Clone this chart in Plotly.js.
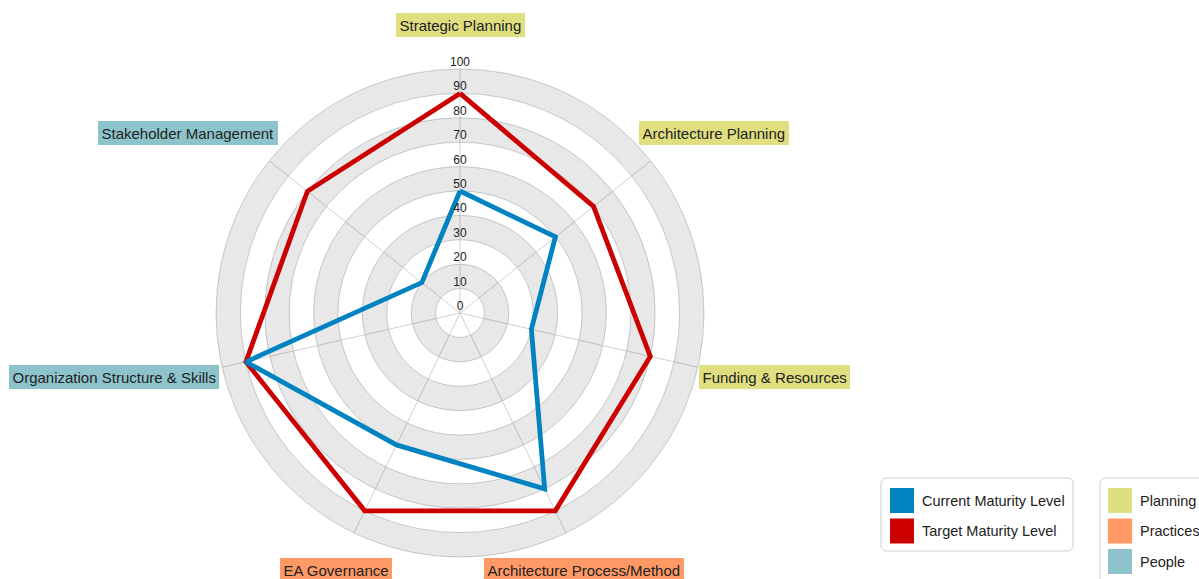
<!DOCTYPE html>
<html>
<head>
<meta charset="utf-8">
<script src="https://cdn.plot.ly/plotly-3.0.1.min.js"></script>
<style>html,body{margin:0;padding:0;background:#fff;}#chart{width:1199px;height:579px;}</style>
</head>
<body>
<div id="chart"></div>
<script>
// ---- data ----
const categories = ['Strategic Planning', 'Architecture Planning', 'Funding & Resources',
  'Architecture Process/Method', 'EA Governance', 'Organization Structure & Skills', 'Stakeholder Management'];
const categoryGroup = ['Planning', 'Planning', 'Planning', 'Practices', 'Practices', 'People', 'People'];
const currentMaturity = [50, 50, 30, 80, 60, 90, 20];
const targetMaturity = [90, 70, 80, 90, 90, 90, 80];
const seriesNames = ['Current Maturity Level', 'Target Maturity Level'];
const groupNames = ['Planning', 'Practices', 'People'];
const radialTicks = [0, 10, 20, 30, 40, 50, 60, 70, 80, 90, 100];
const radialTickLabels = ['0', '10', '20', '30', '40', '50', '60', '70', '80', '90', '100'];
const bandStarts = [10, 30, 50, 70, 90];

// ---- styles ----
const W = 1199, H = 579, cx = 460, cy = 313, R = 244;
const seriesColors = ['#0283C1', '#CC0000'];
const groupColors = {Planning: '#DFDF80', Practices: '#FF9966', People: '#8DC4CC'};
const FONT = 'Liberation Sans, Arial, sans-serif';
const nCat = categories.length;
const thetaOf = i => i * 360 / nCat;
const catTheta = categories.map((c, i) => thetaOf(i));
const closed = arr => arr.concat([arr[0]]);

const traces = [];
// alternating grey bands
traces.push({
  type: 'barpolar',
  r: bandStarts.map(() => 10),
  base: bandStarts,
  theta: bandStarts.map(() => 0),
  width: bandStarts.map(() => 360),
  marker: {color: 'rgba(0,0,0,0.09)', line: {width: 0}},
  hoverinfo: 'skip', showlegend: false
});
// target then current (current on top)
[[targetMaturity, 1], [currentMaturity, 0]].forEach(([vals, k]) => {
  traces.push({
    type: 'scatterpolar', mode: 'lines',
    name: seriesNames[k],
    r: closed(vals), theta: closed(catTheta),
    line: {color: seriesColors[k], width: 4.8},
    showlegend: false
  });
});
// radial tick labels along the first spoke
traces.push({
  type: 'scatterpolar', mode: 'text',
  r: radialTicks, theta: radialTicks.map(() => 0),
  text: radialTickLabels, textposition: 'top center',
  textfont: {family: FONT, size: 12, color: '#222'},
  hoverinfo: 'skip', showlegend: false, cliponaxis: false
});

// category label annotations
const annotations = [];
categories.forEach((cat, i) => {
  const a = (90 - thetaOf(i)) * Math.PI / 180;
  const c = Math.cos(a), s = Math.sin(a);
  const px = cx + R * c, py = cy - R * s;
  let xanchor, yanchor, dx, dy;
  if (s > 0.9) { xanchor = 'center'; yanchor = 'bottom'; dx = 0; dy = -32; }
  else if (s < -0.5) { xanchor = 'center'; yanchor = 'top'; dx = 18 * Math.sign(c); dy = 25; }
  else if (s > 0.5) { xanchor = c > 0 ? 'left' : 'right'; yanchor = 'bottom'; dx = c > 0 ? -12 : 9; dy = -16; }
  else { xanchor = c > 0 ? 'left' : 'right'; yanchor = 'top'; dx = c > 0 ? 1 : -3; dy = -2; }
  annotations.push({
    xref: 'paper', yref: 'paper', x: px / W, y: 1 - py / H,
    xanchor, yanchor, xshift: dx, yshift: -dy,
    text: cat, showarrow: false,
    font: {family: FONT, size: 15, color: '#222'},
    bgcolor: groupColors[categoryGroup[i]], borderpad: 3.5, borderwidth: 0
  });
});

// custom legends
const toPaper = (x, y) => [x / W, 1 - y / H];
function roundRect(x0, y0, x1, y1, r) {
  const p = (x, y) => toPaper(x, y).join(',');
  return 'M' + p(x0 + r, y0) + ' L' + p(x1 - r, y0) + ' Q' + p(x1, y0) + ' ' + p(x1, y0 + r) +
    ' L' + p(x1, y1 - r) + ' Q' + p(x1, y1) + ' ' + p(x1 - r, y1) +
    ' L' + p(x0 + r, y1) + ' Q' + p(x0, y1) + ' ' + p(x0, y1 - r) +
    ' L' + p(x0, y0 + r) + ' Q' + p(x0, y0) + ' ' + p(x0 + r, y0) + ' Z';
}
const shapes = [];
function addLegend(box, x0, names, colors) {
  shapes.push({type: 'path', xref: 'paper', yref: 'paper', path: roundRect(box[0], box[1], box[2], box[3], 6),
    line: {color: '#cfcfcf', width: 1}, fillcolor: '#fff', layer: 'below'});
  names.forEach((nm, k) => {
    const yc = 500.5 + k * 30.5;
    const [ax0, ay0] = toPaper(x0, yc - 12.5), [ax1, ay1] = toPaper(x0 + 24, yc + 12.5);
    shapes.push({type: 'rect', xref: 'paper', yref: 'paper', x0: ax0, x1: ax1, y0: ay1, y1: ay0,
      fillcolor: colors[k], line: {width: 0}});
    const [tx, ty] = toPaper(x0 + 30, yc);
    annotations.push({xref: 'paper', yref: 'paper', x: tx, y: ty, xanchor: 'left', yanchor: 'middle',
      text: nm, showarrow: false, font: {family: FONT, size: 14.5, color: '#222'}});
  });
}
addLegend([881, 478, 1073, 551], 890, seriesNames, seriesColors);
addLegend([1100, 478, 1220, 600], 1108, groupNames, groupNames.map(g => groupColors[g]));

const layout = {
  width: W, height: H,
  margin: {l: 0, r: 0, t: 0, b: 0},
  paper_bgcolor: '#fff',
  showlegend: false,
  polar: {
    domain: {x: [(cx - R) / W, (cx + R) / W], y: [(H - cy - R) / H, (H - cy + R) / H]},
    bgcolor: 'rgba(0,0,0,0)',
    angularaxis: {
      type: 'linear', thetaunit: 'degrees', rotation: 90, direction: 'clockwise',
      tickmode: 'array', tickvals: catTheta, showticklabels: false, ticks: '',
      gridcolor: '#d0d0d0', gridwidth: 1, linecolor: '#d0d0d0', showline: true, layer: 'below traces'
    },
    radialaxis: {
      range: [0, 100], dtick: 10, tick0: 0, showticklabels: false, ticks: '',
      showline: false, gridcolor: '#d0d0d0', gridwidth: 1, layer: 'below traces'
    }
  },
  shapes, annotations
};
Plotly.newPlot('chart', traces, layout, {displayModeBar: false, staticPlot: true});
</script>
</body>
</html>
